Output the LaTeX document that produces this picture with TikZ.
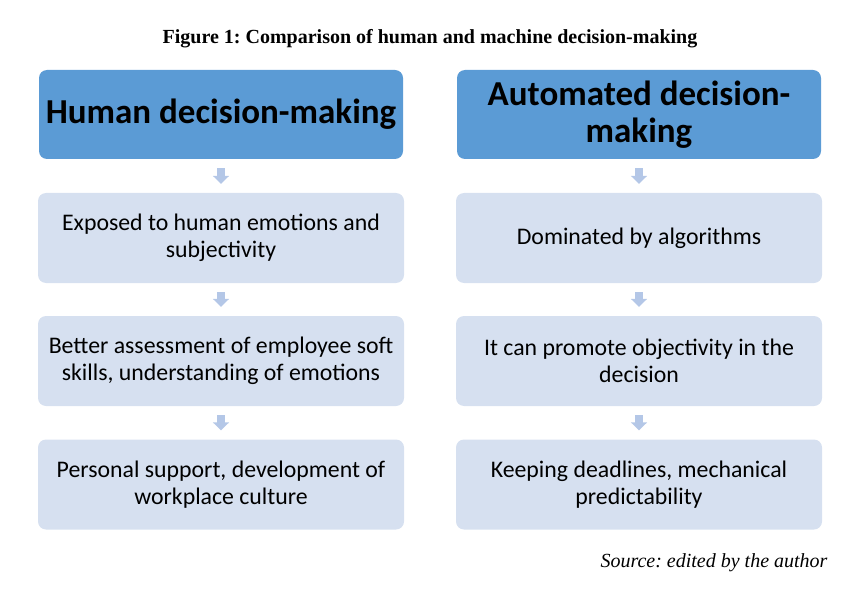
\documentclass[tikz,border=0pt]{standalone}
\usepackage{fontspec}
\setmainfont{Carlito}
\newfontfamily\timesfont{Liberation Serif}
\usetikzlibrary{arrows.meta}
\definecolor{headblue}{RGB}{91,155,213}
\definecolor{itemblue}{RGB}{214,224,240}
\definecolor{flowblue}{RGB}{180,199,231}
\frenchspacing
\begin{document}
\begin{tikzpicture}[x=1pt, y=-1pt,
    headbox/.style={fill=headblue, rounded corners=8pt, minimum width=364pt,
      minimum height=89pt, align=center, inner sep=0pt,
      font=\fontsize{35}{37}\selectfont\bfseries},
    itembox/.style={fill=itemblue, rounded corners=8pt, minimum width=366pt,
      minimum height=90pt, align=center, inner sep=0pt,
      font=\fontsize{23.8}{26.5}\selectfont},
    flow/.style={draw=flowblue, line width=8pt, shorten <=9pt, shorten >=9pt,
      -{Triangle[width=16pt,length=8pt]}}]
    \useasboundingbox (0, 0) rectangle (851, 596);
    \node (title) at (430, 38.5) {\timesfont\fontsize{20}{22}\selectfont\bfseries
      Figure 1: Comparison of human and machine decision-making};
    % left column
    \node[headbox] (human) at (221, 114.5) {Human decision-making};
    \node[itembox] (h1) at (221, 238) {Exposed to human emotions and\\subjectivity};
    \node[itembox] (h2) at (221, 361) {Better assessment of employee soft\\skills, understanding of emotions};
    \node[itembox] (h3) at (221, 484.5) {Personal support, development of\\workplace culture};
    % right column
    \node[headbox] (auto) at (639, 114.5) {Automated decision-\\making};
    \node[itembox] (a1) at (639, 238) {Dominated by algorithms};
    \node[itembox] (a2) at (639, 361) {It can promote objectivity in the\\decision};
    \node[itembox] (a3) at (639, 484.5) {Keeping deadlines, mechanical\\predictability};
    \draw[flow] (human) -- (h1);
    \draw[flow] (h1) -- (h2);
    \draw[flow] (h2) -- (h3);
    \draw[flow] (auto) -- (a1);
    \draw[flow] (a1) -- (a2);
    \draw[flow] (a2) -- (a3);
    \node[anchor=east] (source) at (831, 562.5) {\timesfont\fontsize{20}{22}\selectfont\itshape
      Source: edited by the author};
\end{tikzpicture}
\end{document}
